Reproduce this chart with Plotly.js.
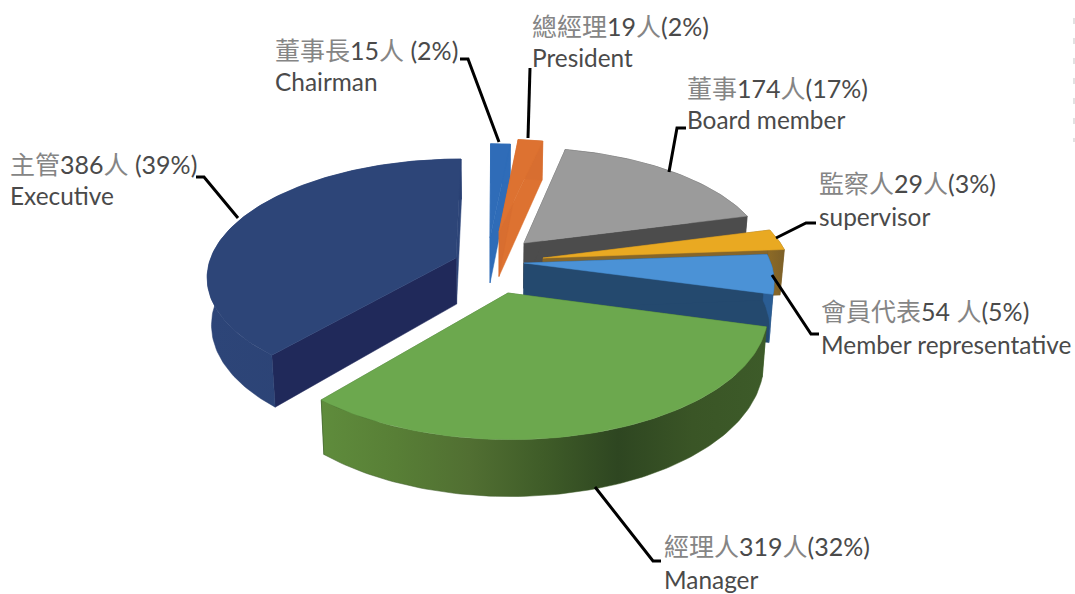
<!DOCTYPE html>
<html><head><meta charset="utf-8">
<script src="https://cdn.plot.ly/plotly-3.0.1.min.js"></script>
<style>html,body{margin:0;padding:0;background:#fff}#c{width:1075px;height:594px}</style>
</head><body><div id="c"></div>
<script>
// ---- data ----
const categories = ['Chairman','President','Board member','supervisor','Member representative','Manager','Executive'];
const values = [15,19,174,29,54,319,386];
const zhLabels = ['董事長15人 (2%)','總經理19人(2%)','董事174人(17%)','監察人29人(3%)','會員代表54 人(5%)','經理人319人(32%)','主管386人 (39%)'];
const topColors = ['#2f6cb8','#dd7231','#9b9b9b','#e9a922','#4b92d6','#6ca84e','#2d4578'];
const startWallColors = ['#2f6cb8','#dd7231','#4c4c4c','#86662a','#24496e','#3f6a2e','#2d4578'];
const endWallColors = ['#2f6cb8','#d86e30','#4c4c4c','#86662a','#24496e','#3f6a2e','#20295a'];
const outerWallScales = [
  ['#2f6cb8','#2f6cb8'],['#d86e30','#d86e30'],['#4c4c4c','#4c4c4c'],['#8f6c26','#7d6028'],['#2a5d94','#2a5d94'],
  ['#5f8c3c','#587f36','#516f32','#3f5c28','#2e4621','#3a5526','#3d5b29'],['#2d4578','#2a4072']];
// ---- view settings ----
const view = {x0:495, y0:273, rx:250, ry:118, p:0.15, wall:47, shrink:0.985};
// pixel position of each slice's exploded tip, in draw-scale units
const tips = [[490,238],[499,232],[524,243],[543,258],[524,263],[508,293],[456,258]];
const order = [0,1,6,2,3,4,5];

const total = values.reduce((a,b)=>a+b,0);
let cum = 0;
const slices = values.map((v,i)=>{const s=cum/total*2*Math.PI; cum+=v; return {i,s,e:cum/total*2*Math.PI};});

function plane(tip){ // tip pixel -> plane coordinates
  const d = tip[1]-view.y0, V = d/(view.ry+view.p*d);
  return [(tip[0]-view.x0)*(1-view.p*V)/view.rx, V];
}
function proj(X,V,low){
  const s = 1/(1-view.p*V);
  let x = view.rx*X*s, y = view.ry*V*s;
  if(low){ x*=view.shrink; y = y + view.wall*s; }
  return [view.x0+x, view.y0+y];
}
const traces = [];
function poly(pts,color,grad){
  const t = {type:'scatter',mode:'lines',x:pts.map(p=>p[0]),y:pts.map(p=>p[1]),fill:'toself',
    line:{width:0.5,color:color},hoverinfo:'skip',showlegend:false};
  if(grad){
    const cs = grad.map((c,k)=>[k/(grad.length-1),c]);
    t.fillgradient = {type:'horizontal',colorscale:cs};
    t.line.color = grad[Math.floor(grad.length/2)];
  } else t.fillcolor = color;
  traces.push(t);
}
order.forEach(idx=>{
  const sl = slices[idx], [ax,av] = plane(tips[idx]);
  const n = Math.max(6,Math.round((sl.e-sl.s)/0.02));
  const rim = [];
  for(let k=0;k<=n;k++){const t=sl.s+(sl.e-sl.s)*k/n; rim.push([ax+Math.sin(t),av-Math.cos(t)]);}
  const top = rim.map(p=>proj(p[0],p[1],false));
  const low = rim.map(p=>proj(p[0],p[1],true));
  const aT = proj(ax,av,false), aL = proj(ax,av,true);
  // radial walls
  poly([aT,top[n],low[n],aL,aT],startWallColors[idx]);
  poly([aT,top[0],low[0],aL,aT],endWallColors[idx]);
  // outer wall
  poly(top.concat(low.slice().reverse()).concat([top[0]]),outerWallScales[idx][0],outerWallScales[idx]);
  // top face
  poly([aT].concat(top).concat([aT]),topColors[idx]);
});
// leader lines
const leaders = [
 [[460,59],[468,59],[499,142]],
 [[530,68],[528,138]],
 [[686,128],[677,128],[669,172]],
 [[816,223],[806,223],[776,238]],
 [[819,334],[811,334],[772,275]],
 [[661,561],[653,561],[595,487]],
 [[196,177],[204,177],[238,218]]];
leaders.forEach(l=>traces.push({type:'scatter',mode:'lines',x:l.map(p=>p[0]),y:l.map(p=>p[1]),
  line:{color:'#000',width:3},hoverinfo:'skip',showlegend:false}));
// faint dashes at right edge
traces.push({type:'scatter',mode:'lines',x:[1074,1074],y:[18,142],line:{color:'#e2e2e2',width:2,dash:'6px,14px'},hoverinfo:'skip',showlegend:false});

const pos = [[273,50,82],[530,26,58],[685,88,120],[817,183,217],[819,311,345],[662,546,580],[8,164,196]];
const ann = [];
const FONT = 'Lato, "Noto Sans CJK TC", sans-serif';
function soften(z){return z.replace(/[\u4e00-\u9fff]+/g,m=>'<span style="color:#858585">'+m+'</span>');}
zhLabels.forEach((z,i)=>{
  ann.push({x:pos[i][0],y:pos[i][1],xref:'x',yref:'y',xanchor:'left',yanchor:'middle',showarrow:false,
    text:soften(z),font:{family:FONT,size:25,color:'#4a4a4a'}});
  ann.push({x:pos[i][0],y:pos[i][2]-1,xref:'x',yref:'y',xanchor:'left',yanchor:'middle',showarrow:false,
    text:categories[i],font:{family:FONT,size:24.4,color:'#4a4a4a'}});
});
Plotly.newPlot('c',traces,{
  width:1075,height:594,margin:{l:0,r:0,t:0,b:0},paper_bgcolor:'#fff',plot_bgcolor:'#fff',showlegend:false,
  xaxis:{range:[0,1075],visible:false,fixedrange:true},
  yaxis:{range:[594,0],visible:false,fixedrange:true},
  annotations:ann
},{displayModeBar:false,staticPlot:true});
</script></body></html>
